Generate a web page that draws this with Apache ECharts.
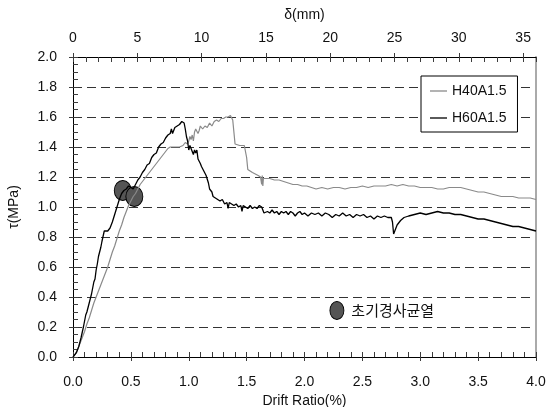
<!DOCTYPE html>
<html>
<head>
<meta charset="utf-8">
<script src="https://cdn.jsdelivr.net/npm/echarts@6.0.0/dist/echarts.min.js"></script>
<style>html,body{margin:0;padding:0;background:#fff}#c{width:550px;height:407px}</style>
</head>
<body>
<div id="c"></div>
<script>
// Series names
const seriesNames = ['H40A1.5', 'H60A1.5'];
// Axis ranges / steps
const driftRange = [0, 4], driftStep = 0.5, driftMinor = 0.1;
const deltaRange = [0, 36], deltaStep = 5, deltaMinor = 1;
const tauRange = [0, 2], tauStep = 0.2, tauMinor = 0.05;

// H40A1.5 : [drift ratio (%), tau (MPa)]
const h40 = [[0,0],[0.02,0.02],[0.04,0.05],[0.06,0.09],[0.08,0.13],[0.1,0.17],[0.12,0.22],[0.14,0.26],[0.16,0.31],[0.18,0.36],[0.2,0.40],[0.22,0.44],[0.24,0.48],[0.26,0.52],[0.28,0.56],[0.3,0.60],[0.32,0.65],[0.34,0.70],[0.36,0.74],[0.38,0.79],[0.4,0.84],[0.42,0.88],[0.44,0.93],[0.46,0.97],[0.48,1.01],[0.5,1.04],[0.52,1.07],[0.54,1.09],[0.56,1.12],[0.58,1.15],[0.6,1.17],[0.62,1.19],[0.64,1.21],[0.66,1.23],[0.68,1.25],[0.7,1.27],[0.72,1.29],[0.74,1.31],[0.76,1.33],[0.78,1.35],[0.8,1.37],[0.82,1.39],[0.84,1.40],[0.88,1.40],[0.92,1.40],[0.95,1.41],[0.97,1.43],[0.99,1.42],[1.0,1.44],[1.01,1.47],[1.02,1.45],[1.03,1.48],[1.04,1.44],[1.05,1.50],[1.06,1.52],[1.07,1.53],[1.08,1.49],[1.09,1.51],[1.1,1.54],[1.12,1.52],[1.14,1.54],[1.16,1.53],[1.18,1.56],[1.2,1.54],[1.22,1.57],[1.24,1.58],[1.26,1.57],[1.28,1.59],[1.3,1.59],[1.32,1.6],[1.34,1.6],[1.36,1.61],[1.37,1.61],[1.38,1.58],[1.39,1.50],[1.4,1.42],[1.44,1.41],[1.48,1.41],[1.49,1.40],[1.5,1.33],[1.51,1.25],[1.55,1.23],[1.6,1.21],[1.62,1.20],[1.63,1.15],[1.635,1.21],[1.64,1.14],[1.645,1.19],[1.66,1.20],[1.7,1.19],[1.74,1.18],[1.78,1.18],[1.82,1.17],[1.86,1.16],[1.9,1.15],[1.94,1.15],[1.98,1.14],[2.02,1.14],[2.06,1.13],[2.1,1.12],[2.15,1.13],[2.2,1.12],[2.25,1.13],[2.3,1.13],[2.35,1.12],[2.4,1.13],[2.45,1.13],[2.5,1.14],[2.55,1.13],[2.6,1.14],[2.65,1.14],[2.7,1.14],[2.75,1.15],[2.8,1.14],[2.85,1.15],[2.9,1.14],[2.95,1.14],[3.0,1.13],[3.05,1.13],[3.1,1.13],[3.15,1.12],[3.2,1.12],[3.25,1.13],[3.3,1.13],[3.35,1.13],[3.4,1.12],[3.45,1.11],[3.5,1.10],[3.55,1.10],[3.6,1.09],[3.65,1.08],[3.7,1.07],[3.75,1.07],[3.8,1.07],[3.85,1.06],[3.9,1.06],[3.95,1.06],[4.0,1.05]];

// H60A1.5 : [drift ratio (%), tau (MPa)]
const h60 = [[0,0],[0.01,0.01],[0.03,0.03],[0.05,0.07],[0.07,0.13],[0.08,0.14],[0.09,0.2],[0.11,0.28],[0.12,0.30],[0.13,0.33],[0.14,0.36],[0.16,0.42],[0.17,0.46],[0.18,0.5],[0.19,0.52],[0.2,0.58],[0.21,0.62],[0.22,0.67],[0.23,0.68],[0.24,0.73],[0.25,0.77],[0.27,0.84],[0.28,0.83],[0.3,0.84],[0.31,0.84],[0.32,0.86],[0.34,0.9],[0.36,0.95],[0.38,1.0],[0.4,1.05],[0.42,1.09],[0.44,1.11],[0.46,1.12],[0.48,1.14],[0.5,1.13],[0.52,1.12],[0.54,1.15],[0.56,1.18],[0.58,1.2],[0.6,1.23],[0.62,1.25],[0.64,1.28],[0.66,1.29],[0.68,1.33],[0.7,1.35],[0.72,1.36],[0.74,1.40],[0.76,1.42],[0.78,1.43],[0.8,1.46],[0.82,1.48],[0.84,1.49],[0.85,1.52],[0.86,1.49],[0.88,1.53],[0.9,1.54],[0.92,1.55],[0.94,1.57],[0.95,1.56],[0.96,1.56],[0.97,1.52],[0.98,1.47],[0.99,1.44],[1.0,1.38],[1.01,1.41],[1.02,1.39],[1.03,1.40],[1.04,1.35],[1.05,1.38],[1.06,1.36],[1.07,1.38],[1.08,1.32],[1.09,1.33],[1.1,1.29],[1.11,1.27],[1.12,1.28],[1.13,1.24],[1.14,1.25],[1.15,1.21],[1.16,1.20],[1.17,1.16],[1.18,1.12],[1.19,1.13],[1.2,1.10],[1.21,1.07],[1.22,1.08],[1.23,1.06],[1.25,1.05],[1.27,1.04],[1.29,1.05],[1.31,1.02],[1.33,1.03],[1.34,0.99],[1.35,1.03],[1.37,1.02],[1.39,1.01],[1.41,1.02],[1.43,1.0],[1.45,1.01],[1.46,0.97],[1.47,1.01],[1.49,1.0],[1.51,0.99],[1.53,1.01],[1.55,0.99],[1.57,1.0],[1.59,0.99],[1.61,1.01],[1.63,1.0],[1.64,1.0],[1.65,0.96],[1.66,0.95],[1.68,0.97],[1.7,0.96],[1.72,0.98],[1.74,0.96],[1.76,0.97],[1.78,0.95],[1.8,0.97],[1.82,0.96],[1.84,0.97],[1.86,0.95],[1.88,0.97],[1.9,0.96],[1.92,0.94],[1.94,0.96],[1.96,0.97],[1.98,0.95],[2.0,0.96],[2.03,0.94],[2.06,0.96],[2.09,0.95],[2.12,0.96],[2.15,0.94],[2.18,0.96],[2.21,0.95],[2.24,0.93],[2.27,0.95],[2.3,0.94],[2.33,0.96],[2.36,0.94],[2.39,0.95],[2.42,0.93],[2.45,0.95],[2.48,0.94],[2.51,0.95],[2.54,0.93],[2.57,0.94],[2.6,0.92],[2.63,0.94],[2.66,0.93],[2.69,0.94],[2.72,0.93],[2.75,0.93],[2.76,0.9],[2.77,0.82],[2.78,0.84],[2.8,0.88],[2.83,0.91],[2.86,0.93],[2.9,0.94],[2.95,0.95],[3.0,0.96],[3.05,0.95],[3.1,0.96],[3.15,0.97],[3.2,0.96],[3.25,0.96],[3.3,0.95],[3.35,0.95],[3.4,0.94],[3.45,0.93],[3.5,0.92],[3.55,0.92],[3.6,0.91],[3.65,0.90],[3.7,0.89],[3.75,0.88],[3.8,0.87],[3.85,0.87],[3.9,0.86],[3.95,0.85],[4.0,0.84]];

// Initial diagonal crack points (H60A1.5 first, then H40A1.5)
const crackDrift = [0.43, 0.53];
const crackTau = [1.11, 1.07];
// Key marker for the crack symbol
const keyLabel = '초기경사균열';
const keyDrift = [2.28];
const keyTau = [0.31];

const FONT = "'Liberation Sans', Arial, sans-serif";
const txt = () => ({color: '#111', fontSize: 14, fontFamily: FONT});
const lineBlk = () => ({color: '#000', width: 1});
const tick = c => ({color: c, width: 1});
const isMult = (v, step) => Math.abs(v / step - Math.round(v / step)) < 1e-6;

const chart = echarts.init(document.getElementById('c'), null, {renderer: 'canvas'});
chart.setOption({
  animation: false,
  backgroundColor: '#fff',
  grid: {left: 73, right: 14, top: 57, bottom: 50, containLabel: false, outerBoundsMode: 'none'},
  legend: {
    data: seriesNames.map(n => ({name: n, icon: 'rect'})),
    orient: 'vertical',
    left: 421, top: 76,
    backgroundColor: '#fff',
    borderColor: '#000', borderWidth: 1, borderRadius: 0,
    padding: [8, 11, 7, 9],
    itemGap: 13, itemWidth: 17, itemHeight: 1.3,
    textStyle: txt()
  },
  xAxis: [
    {type: 'value', position: 'bottom', min: driftRange[0], max: driftRange[1], interval: driftMinor,
     axisLine: {show: true, onZero: false, lineStyle: lineBlk()},
     axisTick: {show: true, inside: true, length: 5, lineStyle: tick('#3c3c3c')},
     axisLabel: Object.assign({margin: 18, formatter: v => isMult(v, driftStep) ? v.toFixed(1) : ''}, txt()),
     splitLine: {show: false},
     name: 'Drift Ratio(%)', nameLocation: 'middle', nameGap: 32, nameTextStyle: txt()},
    {type: 'value', position: 'bottom', min: driftRange[0], max: driftRange[1], interval: driftStep,
     axisLine: {show: true, onZero: false, lineStyle: lineBlk()},
     axisTick: {show: true, inside: false, length: 4, lineStyle: tick('#3c3c3c')},
     axisLabel: {show: false}, splitLine: {show: false}},
    {type: 'value', position: 'top', min: deltaRange[0], max: deltaRange[1], interval: deltaStep,
     axisLine: {show: true, onZero: false, lineStyle: lineBlk()},
     axisTick: {show: true, inside: false, length: 4, lineStyle: tick('#3c3c3c')},
     axisLabel: Object.assign({margin: 12, showMaxLabel: false}, txt()),
     splitLine: {show: false},
     name: 'δ(mm)', nameLocation: 'middle', nameGap: 35, nameTextStyle: txt()},
    {type: 'value', position: 'top', min: deltaRange[0], max: deltaRange[1], interval: deltaMinor,
     axisLine: {show: true, onZero: false, lineStyle: lineBlk()},
     axisTick: {show: true, inside: true, length: 5, lineStyle: tick('#3c3c3c')},
     axisLabel: {show: false}, splitLine: {show: false}}
  ],
  yAxis: [
    {type: 'value', position: 'left', min: tauRange[0], max: tauRange[1], interval: tauMinor,
     axisLine: {show: true, onZero: false, lineStyle: lineBlk()},
     axisTick: {show: true, inside: true, length: 5, lineStyle: tick('#3c3c3c')},
     axisLabel: Object.assign({margin: 16, formatter: v => isMult(v, tauStep) ? v.toFixed(1) : ''}, txt()),
     splitLine: {show: false},
     name: 'τ(MPa)', nameLocation: 'middle', nameGap: 52, nameRotate: 90, nameTextStyle: txt()},
    {type: 'value', position: 'left', min: tauRange[0], max: tauRange[1], interval: tauStep,
     axisLine: {show: true, onZero: false, lineStyle: lineBlk()},
     axisTick: {show: true, inside: false, length: 4, lineStyle: tick('#3c3c3c')},
     axisLabel: {show: false},
     splitLine: {show: true, lineStyle: {color: '#333', width: 1, type: [9, 5]}}},
    {type: 'value', position: 'right', min: tauRange[0], max: tauRange[1], interval: tauStep,
     axisLine: {show: true, onZero: false, lineStyle: {color: '#aaa', width: 2}},
     axisTick: {show: false}, axisLabel: {show: false}, splitLine: {show: false}}
  ],
  series: [
    {name: seriesNames[0], type: 'line', xAxisIndex: 0, yAxisIndex: 0, data: h40,
     symbol: 'none', lineStyle: {color: '#8a8a8a', width: 1.2}, itemStyle: {color: '#8a8a8a'}},
    {name: seriesNames[1], type: 'line', xAxisIndex: 0, yAxisIndex: 0, data: h60,
     symbol: 'none', lineStyle: {color: '#000', width: 1.3}, itemStyle: {color: '#000'}},
    {name: 'crack', type: 'scatter', xAxisIndex: 0, yAxisIndex: 0,
     data: crackDrift.map((d, i) => [d, crackTau[i]]),
     symbol: 'circle', symbolSize: [17, 20],
     itemStyle: {color: '#555', borderColor: '#000', borderWidth: 1, opacity: 1}},
    {name: 'key', type: 'scatter', xAxisIndex: 0, yAxisIndex: 0,
     data: keyDrift.map((d, i) => [d, keyTau[i]]),
     symbol: 'circle', symbolSize: [14, 18],
     itemStyle: {color: '#555', borderColor: '#000', borderWidth: 1, opacity: 1},
     label: {show: true, position: 'right', distance: 7, formatter: keyLabel,
             color: '#111', fontSize: 15, fontFamily: "'Noto Sans CJK KR', sans-serif"}}
  ]
});
</script>
</body>
</html>
